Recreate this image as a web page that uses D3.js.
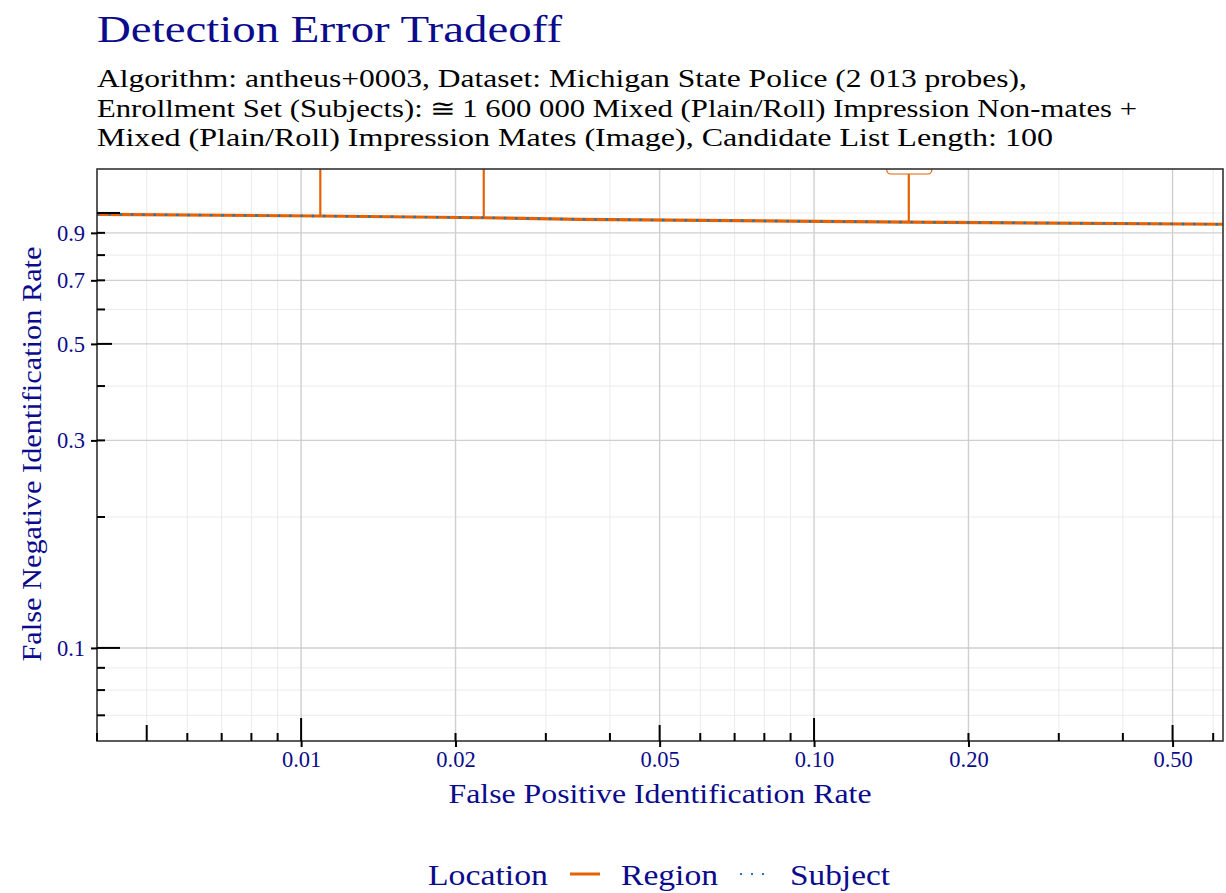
<!DOCTYPE html>
<html>
<head>
<meta charset="utf-8">
<script src="https://cdn.jsdelivr.net/npm/d3@7"></script>
<style>
  body { margin: 0; background: #fff; }
  text { font-family: "Liberation Serif", "DejaVu Serif", serif; }
</style>
</head>
<body>
<div id="chart"></div>
<script>
// values
var fpir = [0.004, 0.0109, 0.0227, 0.035, 0.117, 0.153, 0.63];
var fnirRegion = [0.993, 0.984, 0.975, 0.967, 0.955, 0.953, 0.942];
var fnirSubject = [0.993, 0.984, 0.975, 0.967, 0.955, 0.953, 0.942];

// threshold annotations on the Region curve (labels sit above the panel)
var annotFpir = [0.0109, 0.0227, 0.153];
var annotFnir = [0.984, 0.975, 0.953];
var annotLabelFnir = [1.6, 1.6, 1.229];

var xBreaks = [0.01, 0.02, 0.05, 0.1, 0.2, 0.5];
var xLabels = ["0.01", "0.02", "0.05", "0.10", "0.20", "0.50"];
var xMinor = [0.004, 0.005, 0.006, 0.007, 0.008, 0.009, 0.03, 0.04, 0.06, 0.07, 0.08, 0.09, 0.3, 0.4, 0.6];
var yBreaks = [0.1, 0.3, 0.5, 0.7, 0.9];
var yLabels = ["0.1", "0.3", "0.5", "0.7", "0.9"];
var yMinor = [0.07, 0.08, 0.09, 0.2, 0.4, 0.6, 0.8, 1.0];

var xLogticks = [0.004, 0.005, 0.006, 0.007, 0.008, 0.009, 0.01, 0.02, 0.03, 0.04, 0.05,
  0.06, 0.07, 0.08, 0.09, 0.1, 0.2, 0.3, 0.4, 0.5, 0.6];
var yLogticks = [0.07, 0.08, 0.09, 0.1, 0.2, 0.3, 0.4, 0.5, 0.6, 0.7, 0.8, 0.9, 1.0];

var W = 1226, H = 893;
var navy = "#0b0b8c", orange = "#e66100", blue = "#1f77b4";
var pLeft = 97, pRight = 1223, pTop = 169, pBottom = 741;

var svg = d3.select("#chart").append("svg").attr("width", W).attr("height", H);

var x = d3.scaleLog().domain([0.004, 0.627]).range([pLeft, pRight]);
var y = d3.scaleLog().domain([0.0611, 1.262]).range([pBottom, pTop]);

function fit(sel, w) {
  sel.attr("textLength", w).attr("lengthAdjust", "spacingAndGlyphs");
}

// titles
svg.append("text").attr("x", 97).attr("y", 42).attr("fill", navy)
  .attr("font-size", 37).text("Detection Error Tradeoff").call(fit, 465);

var subLines = [
  "Algorithm: antheus+0003, Dataset: Michigan State Police (2 013 probes),",
  "Enrollment Set (Subjects): \u2245\u20091 600 000 Mixed (Plain/Roll) Impression Non-mates +",
  "Mixed (Plain/Roll) Impression Mates (Image), Candidate List Length: 100"
];
var subWidths = [930, 1040, 956];
subLines.forEach(function (s, i) {
  svg.append("text").attr("x", 97).attr("y", 87 + i * 29.7).attr("fill", "#000")
    .attr("font-size", 25).text(s).call(fit, subWidths[i]);
});

// grid
svg.append("clipPath").attr("id", "panel").append("rect")
  .attr("x", pLeft).attr("y", pTop).attr("width", pRight - pLeft).attr("height", pBottom - pTop);

var grid = svg.append("g");
grid.selectAll(".xmin").data(xMinor).enter().append("line")
  .attr("x1", x).attr("x2", x).attr("y1", pTop).attr("y2", pBottom)
  .attr("stroke", "#ebebeb").attr("stroke-width", 1);
grid.selectAll(".ymin").data(yMinor).enter().append("line")
  .attr("y1", y).attr("y2", y).attr("x1", pLeft).attr("x2", pRight)
  .attr("stroke", "#ebebeb").attr("stroke-width", 1);
grid.selectAll(".xmaj").data(xBreaks).enter().append("line")
  .attr("x1", x).attr("x2", x).attr("y1", pTop).attr("y2", pBottom)
  .attr("stroke", "#cfcfcf").attr("stroke-width", 1.4);
grid.selectAll(".ymaj").data(yBreaks).enter().append("line")
  .attr("y1", y).attr("y2", y).attr("x1", pLeft).attr("x2", pRight)
  .attr("stroke", "#cfcfcf").attr("stroke-width", 1.4);

// curves and annotations
var plot = svg.append("g").attr("clip-path", "url(#panel)");

plot.selectAll(".spike").data(annotFpir).enter().append("line")
  .attr("x1", x).attr("x2", x)
  .attr("y1", function (d, i) { return y(annotFnir[i]); })
  .attr("y2", function (d, i) { return y(annotLabelFnir[i]); })
  .attr("stroke", orange).attr("stroke-width", 2.2);

plot.append("rect")
  .attr("x", x(annotFpir[2]) - 22).attr("y", y(annotLabelFnir[2]) - 30)
  .attr("width", 45).attr("height", 30).attr("rx", 4)
  .attr("fill", "#fff").attr("stroke", orange).attr("stroke-width", 1.2);

var line = d3.line().x(function (d) { return x(d[0]); }).y(function (d) { return y(d[1]); });

plot.append("path").datum(d3.zip(fpir, fnirRegion)).attr("d", line)
  .attr("fill", "none").attr("stroke", orange).attr("stroke-width", 3.2);
plot.append("path").datum(d3.zip(fpir, fnirSubject)).attr("d", line)
  .attr("fill", "none").attr("stroke", blue).attr("stroke-width", 2.4)
  .attr("stroke-dasharray", "2.5,8.8");

// panel border
svg.append("rect").attr("x", pLeft).attr("y", pTop)
  .attr("width", pRight - pLeft).attr("height", pBottom - pTop)
  .attr("fill", "none").attr("stroke", "#333").attr("stroke-width", 1.6);

// log ticks inside the panel
function tickLen(v, long, mid, short) {
  var l = Math.log10(v), f = v / Math.pow(10, Math.floor(l + 1e-9));
  if (Math.abs(f - 1) < 1e-6) return long;
  if (Math.abs(f - 5) < 1e-6) return mid;
  return short;
}
svg.append("g").selectAll("line").data(xLogticks).enter().append("line")
  .attr("x1", x).attr("x2", x).attr("y1", pBottom)
  .attr("y2", function (d) { return pBottom - tickLen(d, 23, 16, 8); })
  .attr("stroke", "#000").attr("stroke-width", 2);
svg.append("g").selectAll("line").data(yLogticks).enter().append("line")
  .attr("y1", y).attr("y2", y).attr("x1", pLeft)
  .attr("x2", function (d) { return pLeft + tickLen(d, 23, 15, 8); })
  .attr("stroke", "#000").attr("stroke-width", 2);

// axes
var xAxis = d3.axisBottom(x).tickValues(xBreaks)
  .tickFormat(function (d, i) { return xLabels[i]; }).tickSize(6).tickPadding(4);
var gx = svg.append("g").attr("transform", "translate(0," + pBottom + ")").call(xAxis);
gx.select(".domain").remove();
gx.selectAll(".tick line").attr("stroke", "#000").attr("stroke-width", 2);
gx.selectAll(".tick text").attr("fill", navy).attr("font-size", 22.5)
  .attr("font-family", "Liberation Serif, serif");

var yAxis = d3.axisLeft(y).tickValues(yBreaks)
  .tickFormat(function (d) { return yLabels[yBreaks.indexOf(d)]; }).tickSize(6).tickPadding(6);
var gy = svg.append("g").attr("transform", "translate(" + pLeft + ",0)").call(yAxis);
gy.select(".domain").remove();
gy.selectAll(".tick line").attr("stroke", "#000").attr("stroke-width", 2);
gy.selectAll(".tick text").attr("fill", navy).attr("font-size", 22.5)
  .attr("font-family", "Liberation Serif, serif");

// axis titles
svg.append("text").attr("x", 660).attr("y", 803).attr("text-anchor", "middle")
  .attr("fill", navy).attr("font-size", 28).text("False Positive Identification Rate").call(fit, 423);
svg.append("text").attr("transform", "translate(41,454) rotate(-90)").attr("text-anchor", "middle")
  .attr("fill", navy).attr("font-size", 28).text("False Negative Identification Rate").call(fit, 415);

// legend
var lg = svg.append("g");
lg.append("text").attr("x", 428).attr("y", 885).attr("fill", navy).attr("font-size", 29)
  .text("Location").call(fit, 120);
lg.append("line").attr("x1", 570).attr("x2", 600).attr("y1", 874).attr("y2", 874)
  .attr("stroke", orange).attr("stroke-width", 3);
lg.append("text").attr("x", 621).attr("y", 885).attr("fill", navy).attr("font-size", 29)
  .text("Region").call(fit, 97);
lg.append("line").attr("x1", 740).attr("x2", 766).attr("y1", 874).attr("y2", 874)
  .attr("stroke", blue).attr("stroke-width", 2.2).attr("stroke-dasharray", "2,9");
lg.append("text").attr("x", 790).attr("y", 885).attr("fill", navy).attr("font-size", 29)
  .text("Subject").call(fit, 100);
</script>
</body>
</html>
